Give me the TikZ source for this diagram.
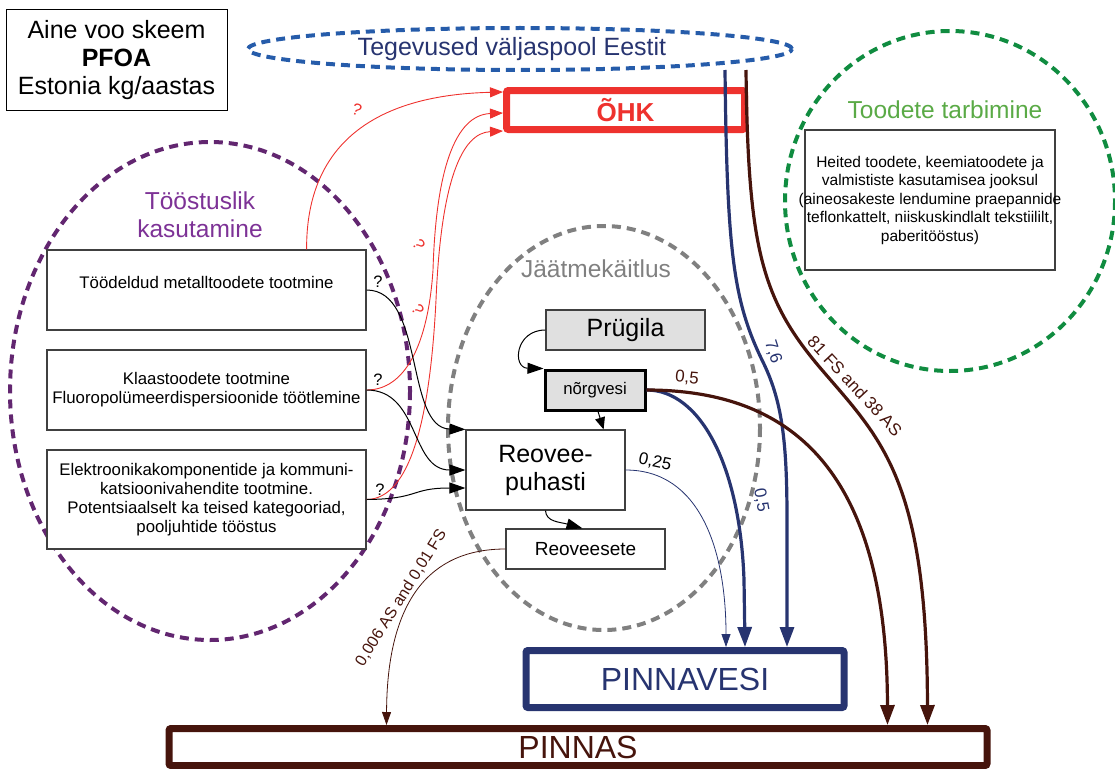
\documentclass[tikz,border=0pt]{standalone}
\usepackage{fontspec}
\setmainfont{Liberation Sans}
\usepackage{tikz}
\usetikzlibrary{arrows.meta,calc,shapes.geometric}

\definecolor{ohkred}{RGB}{238,50,46}
\definecolor{tegblue}{RGB}{38,92,170}
\definecolor{navy}{RGB}{39,52,112}
\definecolor{soilbrown}{RGB}{70,20,12}
\definecolor{indpurple}{RGB}{98,38,112}
\definecolor{indtext}{RGB}{125,50,150}
\definecolor{usegreen}{RGB}{16,140,64}
\definecolor{usetext}{RGB}{90,170,70}
\definecolor{wastegray}{RGB}{128,128,128}
\definecolor{boxgray}{RGB}{224,224,224}

\tikzset{
  procbox/.style={draw=black!75, line width=1.2pt, fill=white, align=center, font=\fontsize{16.8}{19}\selectfont},
  greybox/.style={procbox, fill=boxgray},
  sinkbox/.style={line width=7pt, rounded corners=2pt, inner sep=0pt, font=\fontsize{32}{36}\selectfont},
  region/.style={line width=4pt, dash pattern=on 9pt off 6pt},
  fatflow/.style={line width=3.2pt, -{Triangle[length=20pt,width=14pt]}},
  thinflow/.style={line width=0.8pt, -{Triangle[length=13pt,width=9pt]}},
  feed/.style={black, line width=1pt, -{Triangle[length=16pt,width=11pt]}},
  airflow/.style={ohkred, line width=0.9pt, -{Triangle[length=13pt,width=10pt]}},
  flowlabel/.style={font=\fontsize{17}{20}\selectfont, inner sep=1pt},
  qmark/.style={font=\fontsize{16.5}{19}\selectfont, inner sep=1pt},
  bigtext/.style={font=\fontsize{24.5}{28}\selectfont, align=center},
}

\begin{document}
\begin{tikzpicture}[x=1pt,y=1pt,yscale=-1,xscale=1]
    \useasboundingbox (0,0) rectangle (1115,768);

    %Shape: Ellipse [Tööstuslik kasutamine]
    \draw[region, indpurple] (210,391) ellipse [x radius=200, y radius=249];
    %Shape: Ellipse [Jäätmekäitlus]
    \draw[region, wastegray] (604,428) ellipse [x radius=156, y radius=202];
    %Shape: Ellipse [Toodete tarbimine]
    \draw[region, usegreen] (950,201) ellipse [x radius=165, y radius=170];

    % Text Node
    \node[draw=black, line width=1pt, minimum width=221pt, minimum height=100pt, bigtext, font=\fontsize{25}{28}\selectfont] (title) at (116.5,60) {Aine voo skeem\\\textbf{PFOA}\\Estonia kg/aastas};
    % Text Node
    \node[ellipse, draw=tegblue, region, text=navy, bigtext, font=\fontsize{25}{28}\selectfont, minimum width=544pt, minimum height=42pt, inner sep=0pt] (abroad) at (520,49) {Tegevused väljaspool Eestit\hspace*{16pt}};
    % Text Node
    \node[bigtext, text=indtext] (indlabel) at (200,215) {Tööstuslik\\kasutamine};
    % Text Node
    \node[bigtext, text=usetext] (uselabel) at (945,110) {Toodete tarbimine};
    % Text Node
    \node[bigtext, text=wastegray] (wastelabel) at (596,269) {Jäätmekäitlus};

    %Shape: Rectangle [sinks]
    \node[sinkbox, draw=ohkred, text=ohkred, font=\fontsize{26}{30}\selectfont\bfseries, minimum width=238pt, minimum height=39pt] (ohk) at (625.5,110) {ÕHK};
    \node[sinkbox, draw=navy, text=navy, minimum width=318pt, minimum height=57pt] (water) at (685,679) {PINNAVESI};
    \node[sinkbox, draw=soilbrown, text=soilbrown, minimum width=818pt, minimum height=37pt] (soil) at (578,747) {PINNAS};

    %Shape: Rectangle [industry]
    \node[procbox, minimum width=319pt, minimum height=80pt, text height=12pt, text depth=16pt] (metal) at (206.5,290) {Töödeldud metalltoodete tootmine};
    \node[procbox, minimum width=319pt, minimum height=80pt] (glass) at (206.5,390) {Klaastoodete tootmine\\Fluoropolümeerdispersioonide töötlemine};
    \node[procbox, minimum width=319pt, minimum height=99pt] (elec) at (206.5,499.5) {Elektroonikakomponentide ja kommuni-\\katsioonivahendite tootmine.\\Potentsiaalselt ka teised kategooriad,\\pooljuhtide tööstus};

    %Shape: Rectangle [consumption]
    \node[procbox, font=\fontsize{15.5}{18.5}\selectfont, minimum width=250pt, minimum height=140pt, inner xsep=0pt] (usebox) at (930,200) {Heited toodete, keemiatoodete ja\\valmististe kasutamisea jooksul\\\makebox[240pt][c]{(aineosakeste lendumine praepannide}\\teflonkattelt, niiskuskindlalt tekstiililt,\\paberitööstus)};

    %Shape: Rectangle [waste]
    \node[greybox, font=\fontsize{25}{28}\selectfont, minimum width=159pt, minimum height=40pt] (landfill) at (625.5,330) {Prügila};
    \node[greybox, line width=3pt, draw=black, minimum width=100pt, minimum height=40pt] (leach) at (595,390) {nõrgvesi};
    \node[procbox, font=\fontsize{25}{28}\selectfont, minimum width=159pt, minimum height=80pt] (wwtp) at (545.5,470) {Reovee-\\puhasti};
    \node[procbox, font=\fontsize{19}{22}\selectfont, minimum width=159pt, minimum height=40pt] (sludge) at (585.5,549) {Reoveesete};

    %Curve Lines [to ÕHK]
    \draw[airflow] ($(metal.north east)+(-60,0)$) .. controls (306,140) and (380,95) .. ($(ohk.west)+(0,-18)$);
    \draw[airflow] (glass.east) .. controls (405,390) and (428,345) .. (433,270) .. controls (436,170) and (455,115) .. ($(ohk.west)+(0,3)$);
    \draw[airflow] (elec.east) .. controls (410,499) and (430,420) .. (436,300) .. controls (441,180) and (462,133) .. ($(ohk.west)+(0,21)$);
    \node[qmark, text=ohkred, rotate=-20] (q1) at (357,110) {?};
    \node[qmark, text=ohkred, rotate=-60] (q2) at (419,245) {?};
    \node[qmark, text=ohkred, rotate=-60] (q3) at (418,310) {?};

    %Curve Lines [to Reoveepuhasti]
    \draw[feed] (metal.east) .. controls (425,290) and (405,428) .. (wwtp.north west);
    \draw[feed] (glass.east) .. controls (420,390) and (410,470) .. (wwtp.west);
    \draw[feed] (elec.east) .. controls (420,499) and (410,488) .. ($(wwtp.west)+(0,18)$);
    \node[qmark] (q4) at (378,282) {?};
    \node[qmark] (q5) at (378,380) {?};
    \node[qmark] (q6) at (380,490) {?};

    %Curve Lines [waste handling]
    \draw[feed] (landfill.west) .. controls (515,330) and (512,368) .. (leach.north west);
    \draw[black, line width=1pt, -{Triangle[length=12pt,width=10pt]}] ($(leach.south)+(3,0)$) -- ($(wwtp.north east)+(-22,0)$);
    \draw[feed] (wwtp.south) .. controls (546,522) and (560,522) .. ($(sludge.north)+(-3,0)$);

    %Curve Lines [to PINNAVESI]
    \draw[fatflow, navy] ($(abroad.south)+(205,-2)$) .. controls (727,250) and (733,300) .. (762,360) .. controls (782,400) and (787,440) .. (787,520) -- ($(water.north)+(102,0)$);
    \draw[fatflow, navy] (leach.east) .. controls (700,390) and (740,465) .. (744,580) -- ($(water.north)+(60,0)$);
    \draw[thinflow, navy] (wwtp.east) .. controls (700,470) and (726,550) .. ($(water.north)+(41,0)$);
    \node[flowlabel, text=navy, rotate=-72] (lbl76) at (773,352) {7,6};
    \node[flowlabel, text=navy, rotate=-80] (lbl05b) at (761,500) {0,5};
    \node[flowlabel, rotate=-12] (lbl025) at (655,462) {0,25};

    %Curve Lines [to PINNAS]
    \draw[fatflow, soilbrown] ($(abroad.south)+(226,-2)$) .. controls (748,250) and (762,300) .. (822,370) .. controls (882,440) and (927,480) .. ($(soil.north east)+(-63,0)$);
    \draw[fatflow, soilbrown] (leach.east) .. controls (800,390) and (887,480) .. ($(soil.north east)+(-103,0)$);
    \draw[thinflow, soilbrown] (sludge.west) .. controls (430,549) and (387,600) .. ($(soil.north west)+(221,0)$);
    \node[flowlabel, text=soilbrown, rotate=-47] (lbl81) at (855,386) {81 FS and 38 AS};
    \node[flowlabel, text=soilbrown, rotate=-5] (lbl05r) at (687,378) {0,5};
    \node[flowlabel, text=soilbrown, font=\fontsize{16}{19}\selectfont, rotate=58] (lbl006) at (401,598) {0,006 AS and 0,01 FS};

\end{tikzpicture}
\end{document}
